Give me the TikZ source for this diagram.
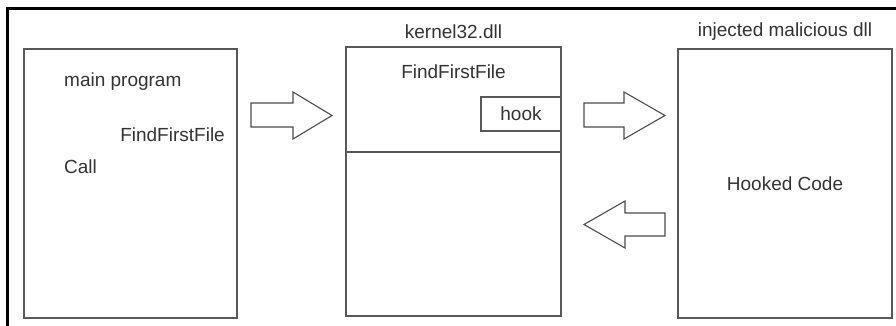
\documentclass[tikz,border=0pt]{standalone}
\usepackage{fontspec}
\setmainfont{Liberation Sans}
\begin{document}
\begin{tikzpicture}[x=1pt,y=-1pt,
  lbl/.style={inner sep=0pt, text=black!80, font=\fontsize{19}{22}\selectfont},
  boxline/.style={draw=black!65, line width=1.1pt},
  blockarrow/.style={draw=black!70, line width=1.1pt, fill=white, line join=miter}]
\useasboundingbox (0,0) rectangle (896,326);
\clip (0,0) rectangle (896,326);
\fill[white] (0,0) rectangle (896,326);
% outer frame (only top and left edges visible)
\draw[line width=3pt, black] (7.5,9) rectangle (905,340);

% box 1: main program
\draw[boxline] (24,49) rectangle (237,318);
\node[lbl, anchor=west] (mp) at (64,82) {main program};
\node[lbl, anchor=east] (fff1) at (225,135) {FindFirstFile};
\node[lbl, anchor=west] (call) at (64,167) {Call};

% box 2: kernel32.dll
\draw[boxline] (346,47) rectangle (561,316);
\draw[boxline] (346,152) -- (561,152);
\node[lbl] (k32) at (453.5,32) {kernel32.dll};
\node[lbl] (fff2) at (453.5,72) {FindFirstFile};
\draw[boxline] (481,97) rectangle (561,131);
\node[lbl] (hook) at (521,114) {hook};

% box 3: injected malicious dll
\draw[boxline] (678,49) rectangle (892,318);
\node[lbl] (inj) at (785,32) {injected malicious dll};
\node[lbl] (hc) at (785,184) {Hooked Code};

% block arrows
\draw[blockarrow] (251,103) -- (293,103) -- (293,92) -- (332,115.5) -- (293,139) -- (293,127) -- (251,127) -- cycle;
\draw[blockarrow] (584,103) -- (624,103) -- (624,92) -- (665,115.5) -- (624,139) -- (624,127) -- (584,127) -- cycle;
\draw[blockarrow] (665,213) -- (625,213) -- (625,201) -- (584,224.5) -- (625,248) -- (625,236) -- (665,236) -- cycle;
\end{tikzpicture}
\end{document}
